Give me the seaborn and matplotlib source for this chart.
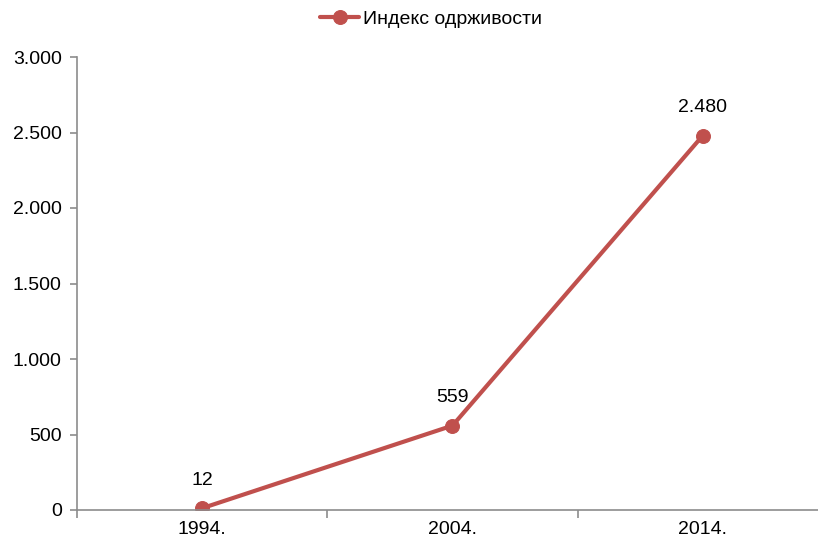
import matplotlib
matplotlib.use("Agg")
import matplotlib.pyplot as plt
import seaborn as sns
import pandas as pd
from matplotlib.ticker import FuncFormatter, FixedLocator

years = ["1994.", "2004.", "2014."]
values = [12, 559, 2480]
series_name = "Индекс одрживости"
yticks = [0, 500, 1000, 1500, 2000, 2500, 3000]

sns.set_theme(style="white")
plt.rcParams['font.family'] = ['Liberation Sans', 'DejaVu Sans']

df = pd.DataFrame({"year": years, "value": values, "series": series_name})

fig = plt.figure(figsize=(8.18, 5.41), dpi=100)
ax = fig.add_axes([77/818, 31/541, (828-77)/818, (510-57)/541])

color = "#C0504D"
fs = 14
sns.lineplot(data=df, x="year", y="value", hue="series", palette=[color],
             sort=False, marker="o", markersize=10, linewidth=3,
             markeredgecolor=color, ax=ax)

ax.set_xlim(-0.5, 2.5)
ax.set_ylim(0, 3000)
ax.set_xlabel("")
ax.set_ylabel("")

def fmt(v, pos=None):
    return f"{int(round(v)):,}".replace(",", ".")

ax.yaxis.set_major_locator(FixedLocator(yticks))
ax.yaxis.set_major_formatter(FuncFormatter(fmt))

for i, v in enumerate(values):
    ax.annotate(fmt(v), (i, v), xytext=(0, 20), textcoords="offset points",
                ha="center", va="center", fontsize=fs, color="#000000")

for side in ["top", "right"]:
    ax.spines[side].set_visible(False)
axis_col = "#8C8C8C"
ax.spines["left"].set_color(axis_col)
ax.spines["bottom"].set_color(axis_col)
ax.spines["left"].set_linewidth(1.2)
ax.spines["bottom"].set_linewidth(1.2)

ax.tick_params(axis="y", which="major", direction="out", length=5, width=1.2,
               color=axis_col, labelsize=fs, labelcolor="#000000", pad=6, left=True)
ax.set_xticks([0, 1, 2])
ax.set_xticks([-0.5, 0.5, 1.5, 2.5], minor=True)
ax.tick_params(axis="x", which="major", length=0, labelsize=fs, labelcolor="#000000", pad=8)
ax.tick_params(axis="x", which="minor", direction="out", length=6, width=1.2,
               color=axis_col, bottom=True)
ax.grid(False)

leg = ax.legend(loc="center", bbox_to_anchor=(431/818, 1 - 19/541),
                bbox_transform=fig.transFigure, frameon=False, fontsize=fs,
                handlelength=2.0, handletextpad=0.2, borderaxespad=0)
for t in leg.get_texts():
    t.set_color("#000000")

fig.savefig("out.png", dpi=100)
